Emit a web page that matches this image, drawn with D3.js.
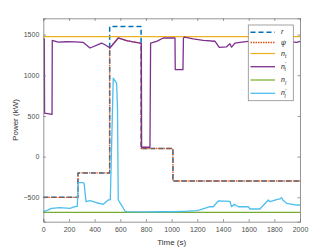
<!DOCTYPE html>
<meta charset="utf-8">
<style>
body { margin: 0; background: #fff; }
svg { font-family: "Liberation Sans", Arial, sans-serif; }
.tick text { fill: #4d4d4d; font-size: 7px; }
</style>
<svg width="332" height="249"></svg>
<script src="https://cdn.jsdelivr.net/npm/d3@7"></script>
<script>

// reference r
var rT = [0, 270, 270, 517, 517, 762, 762, 1010, 1010, 2000];
var rV = [-500, -500, -200, -200, 1600, 1600, 100, 100, -300, -300];

// psi (follows n'_a while r is high)
var psiT = [0, 270, 270, 517, 517, 584, 649, 753, 762, 762, 1010, 1010, 2000];
var psiV = [-500, -500, -200, -200, 1335, 1458, 1425, 1396, 1396, 100, 100, -300, -300];

// n_t and n_l are flat
var ntV = 1475;
var nlV = -685;

// n'_t
var naT = [0, 8, 10, 68, 70, 117, 182, 250, 312, 364, 455, 494, 519, 584, 649, 753, 764, 766, 831, 836, 883, 935, 1026, 1028, 1088, 1092, 1100, 1168, 1246, 1337, 1371, 1428, 1454, 1467, 1493, 1532, 1597, 1700, 1800, 1900, 1973, 2000];
var naV = [1446, 1446, 534, 520, 1428, 1408, 1412, 1410, 1404, 1335, 1396, 1363, 1335, 1458, 1425, 1396, 1396, 115, 115, 1396, 1416, 1458, 1458, 1068, 1068, 1458, 1470, 1446, 1428, 1418, 1343, 1350, 1388, 1345, 1396, 1404, 1416, 1418, 1420, 1416, 1404, 1416];

// n'_l
var nlpT = [0, 30, 65, 130, 208, 247, 265, 273, 311, 318, 333, 364, 416, 467, 506, 522, 545, 571, 578, 584, 610, 636, 650, 800, 900, 1000, 1100, 1195, 1220, 1298, 1324, 1363, 1454, 1467, 1488, 1519, 1597, 1610, 1688, 1753, 1766, 1818, 1843, 1856, 1870, 1896, 1974, 2000];
var nlpV = [-677, -660, -636, -628, -636, -616, -610, -320, -320, -330, -554, -542, -567, -586, -533, -530, 965, 904, 600, -533, -600, -669, -677, -680, -675, -678, -672, -665, -656, -616, -616, -545, -549, -616, -586, -616, -616, -644, -644, -533, -554, -530, -520, -505, -540, -574, -595, -595];

var xTicks = d3.range(0, 2001, 200);
var yTicks = [-500, 0, 500, 1000, 1500];

var svg = d3.select("svg");
var L = 43.3, R = 300, T = 18.3, B = 221.7;

var x = d3.scaleLinear().domain([0, 2000]).range([L, R]);
var y = d3.scaleLinear().domain([-800, 1700]).range([B, T]);

function pts(ts, vs) { return ts.map(function(t, i) { return [t, vs[i]]; }); }
var line = d3.line().x(function(d) { return x(d[0]); }).y(function(d) { return y(d[1]); });

var series = [
  {key: "r", data: pts(rT, rV), color: "#0072BD", width: 1.5, dash: "5,3"},
  {key: "psi", data: pts(psiT, psiV), color: "#D95319", width: 1.3, dash: "1.5,1"},
  {key: "nt", data: [[0, ntV], [2000, ntV]], color: "#EDB120", width: 1.2, dash: null},
  {key: "na", data: pts(naT, naV), color: "#7E2F8E", width: 1.3, dash: null},
  {key: "nl", data: [[0, nlV], [2000, nlV]], color: "#77AC30", width: 1.2, dash: null},
  {key: "nlp", data: pts(nlpT, nlpV), color: "#4DBEEE", width: 1.3, dash: null}
];

var plot = svg.append("g");
plot.selectAll("path")
  .data(series)
  .enter().append("path")
    .attr("d", function(d) { return line(d.data); })
    .attr("fill", "none")
    .attr("stroke", function(d) { return d.color; })
    .attr("stroke-width", function(d) { return d.width; })
    .attr("stroke-dasharray", function(d) { return d.dash; })
    .attr("stroke-linejoin", "round");

// axes (matlab style box, ticks inward)
var axColor = "#7a7a7a";
var gx = svg.append("g").attr("transform", "translate(0," + B + ")")
  .call(d3.axisBottom(x).tickValues(xTicks).tickSize(-2.5).tickPadding(5).tickFormat(d3.format("d")));
var gy = svg.append("g").attr("transform", "translate(" + L + ",0)")
  .call(d3.axisLeft(y).tickValues(yTicks).tickSize(-2.5).tickPadding(4).tickFormat(d3.format("d")));
var gx2 = svg.append("g").attr("transform", "translate(0," + T + ")")
  .call(d3.axisTop(x).tickValues(xTicks).tickSize(-2.5).tickFormat(""));
var gy2 = svg.append("g").attr("transform", "translate(" + R + ",0)")
  .call(d3.axisRight(y).tickValues(yTicks).tickSize(-2.5).tickFormat(""));
[gx, gy, gx2, gy2].forEach(function(g) {
  g.selectAll(".domain").attr("stroke", axColor).attr("stroke-width", 0.8);
  g.selectAll(".tick line").attr("stroke", axColor).attr("stroke-width", 0.8);
  g.selectAll(".tick text").style("font-size", "7px");
});

svg.append("text")
  .attr("transform", "translate(15," + ((T + B) / 2) + ") rotate(-90)")
  .attr("text-anchor", "middle")
  .attr("dy", "0.35em")
  .style("font-size", "8px")
  .attr("fill", "#333")
  .text("Power (kW)");

svg.append("text")
  .attr("x", (L + R) / 2)
  .attr("y", 245)
  .attr("text-anchor", "middle")
  .style("font-size", "8px")
  .attr("fill", "#333")
  .text("Time (s)");

// legend
var legLabels = [
  {main: "r", sup: "", sub: ""},
  {main: "\u03C8", sup: "", sub: ""},
  {main: "n", sup: "", sub: "t"},
  {main: "n", sup: "'", sub: "t"},
  {main: "n", sup: "", sub: "l"},
  {main: "n", sup: "'", sub: "l"}
];
var legY = [32.3, 42.5, 53.5, 66.7, 80, 93.3];

var leg = svg.append("g");
leg.append("rect")
  .attr("x", 248.3).attr("y", 25)
  .attr("width", 45).attr("height", 75.7)
  .attr("fill", "#fff")
  .attr("stroke", "#8c8c8c")
  .attr("stroke-width", 0.8);

var item = leg.selectAll("g.item")
  .data(series)
  .enter().append("g")
    .attr("class", "item")
    .attr("transform", function(d, i) { return "translate(0," + legY[i] + ")"; });

item.append("line")
  .attr("x1", 250.5).attr("x2", 275)
  .attr("stroke", function(d) { return d.color; })
  .attr("stroke-width", function(d) { return d.width; })
  .attr("stroke-dasharray", function(d) { return d.dash; });

var lt = item.append("text")
  .attr("x", 281)
  .attr("dy", "0.3em")
  .style("font-size", "7px")
  .style("font-style", "italic")
  .attr("fill", "#222");
lt.each(function(d, i) {
  var t = d3.select(this), lab = legLabels[i];
  t.append("tspan").text(lab.main);
  if (lab.sup) t.append("tspan").attr("dy", "-2.5").style("font-size", "5px").text(lab.sup);
  if (lab.sub) t.append("tspan").attr("dx", lab.sup ? "-1.5" : "0").attr("dy", lab.sup ? "5" : "2.5").style("font-size", "5px").text(lab.sub);
});

</script>
